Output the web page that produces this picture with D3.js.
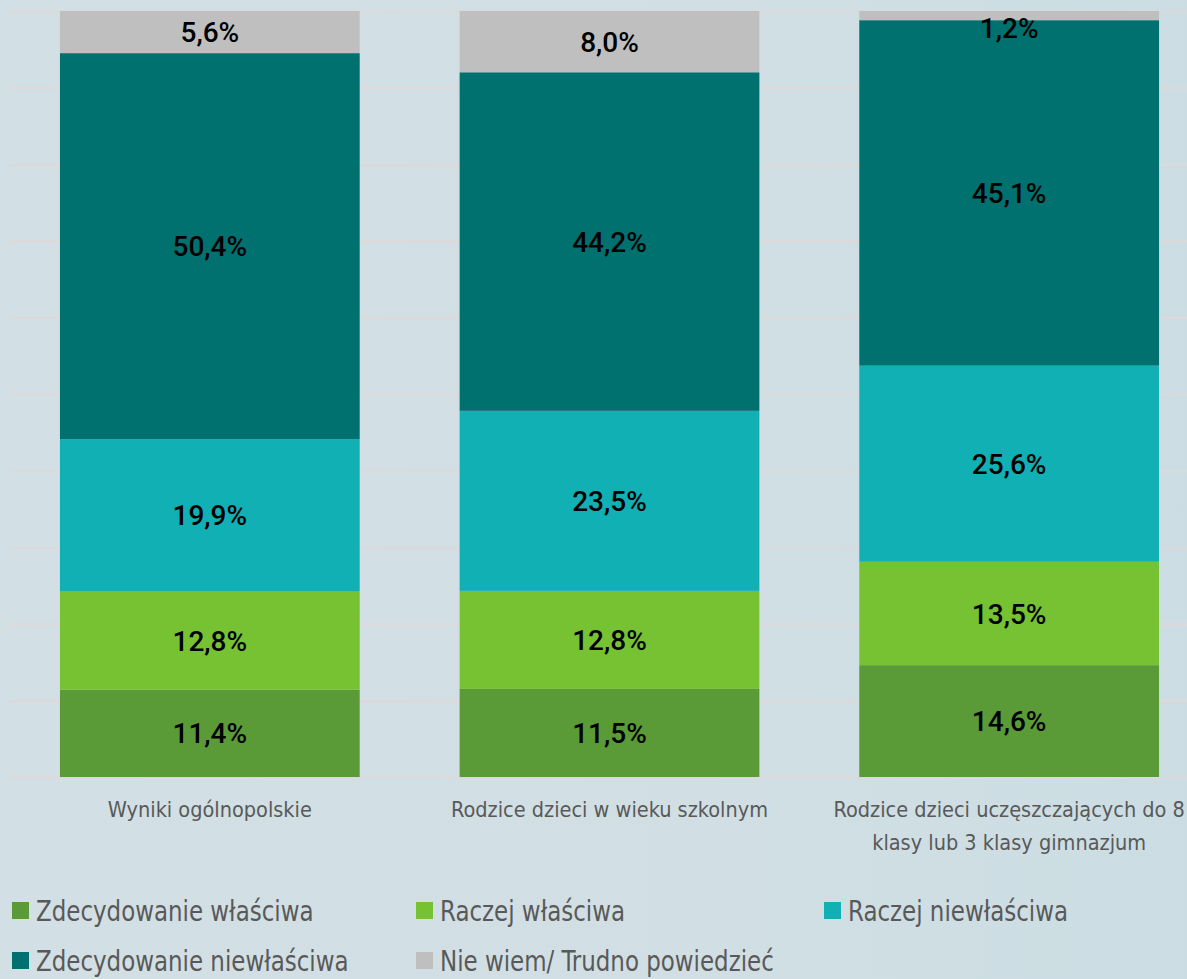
<!DOCTYPE html>
<html>
<head>
<meta charset="utf-8">
<script src="https://cdnjs.cloudflare.com/ajax/libs/d3/7.8.5/d3.min.js"></script>
<style>
    html, body { margin: 0; padding: 0; }
    body {
        width: 1187px; height: 979px; overflow: hidden;
        background: linear-gradient(90deg, #d2dfe4 0%, #d1dfe4 60%, #cbdde3 100%);
    }
    .cat-label, .legend-text {
        font-family: "DejaVu Sans", sans-serif;
        font-stretch: condensed;
        fill: #595959;
    }
    .val-label { font-family: Roboto, "Liberation Sans", sans-serif; font-weight: 500; fill: #000; }
</style>
</head>
<body>
<div id="chart-area"></div>
<script>

// categories on the x axis
const categories = [
    "Wyniki ogólnopolskie",
    "Rodzice dzieci w wieku szkolnym",
    "Rodzice dzieci uczęszczających do 8 klasy lub 3 klasy gimnazjum"
];

// series names (legend order = stacking order from the bottom)
const seriesNames = [
    "Zdecydowanie właściwa",
    "Raczej właściwa",
    "Raczej niewłaściwa",
    "Zdecydowanie niewłaściwa",
    "Nie wiem/ Trudno powiedzieć"
];

// values in %
const zdecydowanieWlasciwa = [11.4, 11.5, 14.6];
const raczejWlasciwa = [12.8, 12.8, 13.5];
const raczejNiewlasciwa = [19.9, 23.5, 25.6];
const zdecydowanieNiewlasciwa = [50.4, 44.2, 45.1];
const nieWiem = [5.6, 8.0, 1.2];

const seriesColors = ["#5a9b38", "#76c232", "#10b0b5", "#00716f", "#bfbfbf"];


class StackedBarVis {

    constructor(parentElement) {
        this.parentElement = parentElement;
        this.initVis();
    }

    initVis() {
        let vis = this;

        vis.margin = {top: 11, right: 0, bottom: 202, left: 10};
        vis.width = 1187 - vis.margin.left - vis.margin.right;
        vis.height = 979 - vis.margin.top - vis.margin.bottom;

        vis.svg = d3.select("#" + vis.parentElement).append("svg")
            .attr("width", 1187)
            .attr("height", 979)
            .style("display", "block")
            .append("g")
            .attr("transform", "translate(" + vis.margin.left + "," + vis.margin.top + ")");

        // band scale wider than the visible area so the third bar sits where it does in the original
        vis.xScale = d3.scaleBand()
            .domain(categories)
            .range([0, 1199])
            .paddingInner(0.25)
            .paddingOuter(0.125);

        vis.yScale = d3.scaleLinear()
            .domain([0, 100])
            .range([vis.height, 0]);

        // gridlines
        vis.svg.append("g")
            .attr("class", "grid")
            .selectAll("line")
            .data(d3.range(0, 101, 10))
            .join("line")
            .attr("x1", 0)
            .attr("x2", vis.width)
            .attr("y1", d => vis.yScale(d) + 0.5)
            .attr("y2", d => vis.yScale(d) + 0.5)
            .attr("stroke", "#ddd9d9")
            .attr("stroke-width", 2);

        vis.wrangleData();
    }

    wrangleData() {
        let vis = this;

        let columns = [zdecydowanieWlasciwa, raczejWlasciwa, raczejNiewlasciwa, zdecydowanieNiewlasciwa, nieWiem];
        vis.rows = categories.map((c, i) => {
            let row = {category: c};
            seriesNames.forEach((s, j) => row[s] = columns[j][i]);
            return row;
        });

        vis.stacked = d3.stack().keys(seriesNames)(vis.rows);

        vis.updateVis();
    }

    updateVis() {
        let vis = this;

        let layers = vis.svg.append("g")
            .selectAll("g.layer")
            .data(vis.stacked)
            .join("g")
            .attr("class", "layer")
            .attr("fill", (d, i) => seriesColors[i]);

        layers.selectAll("rect")
            .data(d => d)
            .join("rect")
            .attr("x", d => vis.xScale(d.data.category))
            .attr("width", vis.xScale.bandwidth())
            .attr("y", d => vis.yScale(Math.min(100, d[1])))
            .attr("height", d => vis.yScale(d[0]) - vis.yScale(Math.min(100, d[1])));

        // value labels
        vis.svg.append("g")
            .selectAll("g")
            .data(vis.stacked)
            .join("g")
            .selectAll("text")
            .data(d => d)
            .join("text")
            .attr("class", "val-label")
            .attr("x", d => vis.xScale(d.data.category) + vis.xScale.bandwidth() / 2)
            .attr("y", d => Math.max((vis.yScale(d[0]) + vis.yScale(d[1])) / 2, 17))
            .attr("dy", "0.36em")
            .attr("text-anchor", "middle")
            .style("font-size", "28px")
            .text(d => d3.format(".1f")(d[1] - d[0]).replace(".", ",") + "%");

        // category axis labels
        let catLabels = vis.svg.append("g")
            .selectAll("text")
            .data(categories)
            .join("text")
            .attr("class", "cat-label")
            .attr("x", d => vis.xScale(d) + vis.xScale.bandwidth() / 2)
            .attr("y", vis.height + 40)
            .attr("text-anchor", "middle")
            .style("font-size", "21.5px")
            .text(d => d);
        catLabels.call(wrap, 360);

        // legend
        let legendPos = [[2, 0], [406, 0], [814, 0], [2, 1], [406, 1]];
        let legend = vis.svg.append("g")
            .attr("transform", "translate(0," + (vis.height + 134) + ")")
            .selectAll("g")
            .data(seriesNames)
            .join("g")
            .attr("transform", (d, i) => "translate(" + legendPos[i][0] + "," + legendPos[i][1] * 50 + ")");

        legend.append("rect")
            .attr("width", 17)
            .attr("height", 17)
            .attr("y", -9)
            .attr("fill", (d, i) => seriesColors[i]);

        // the original font is taller and narrower, so squeeze it a bit
        legend.append("text")
            .attr("class", "legend-text")
            .attr("transform", "translate(24,0) scale(0.88,1)")
            .attr("dy", "0.36em")
            .style("font-size", "29px")
            .text(d => d);
    }
}

// wrap long labels into lines
function wrap(selection, width) {
    selection.each(function () {
        let text = d3.select(this);
        let words = text.text().split(/\s+/);
        let x = text.attr("x"), y = text.attr("y");
        text.text(null);
        let line = [];
        let lineNo = 0;
        let tspan = text.append("tspan").attr("x", x).attr("y", y);
        words.forEach(w => {
            line.push(w);
            tspan.text(line.join(" "));
            if (tspan.node().getComputedTextLength() > width && line.length > 1) {
                line.pop();
                tspan.text(line.join(" "));
                line = [w];
                lineNo++;
                tspan = text.append("tspan").attr("x", x).attr("y", +y + lineNo * 33).text(w);
            }
        });
    });
}

let chart = new StackedBarVis("chart-area");

</script>
</body>
</html>
